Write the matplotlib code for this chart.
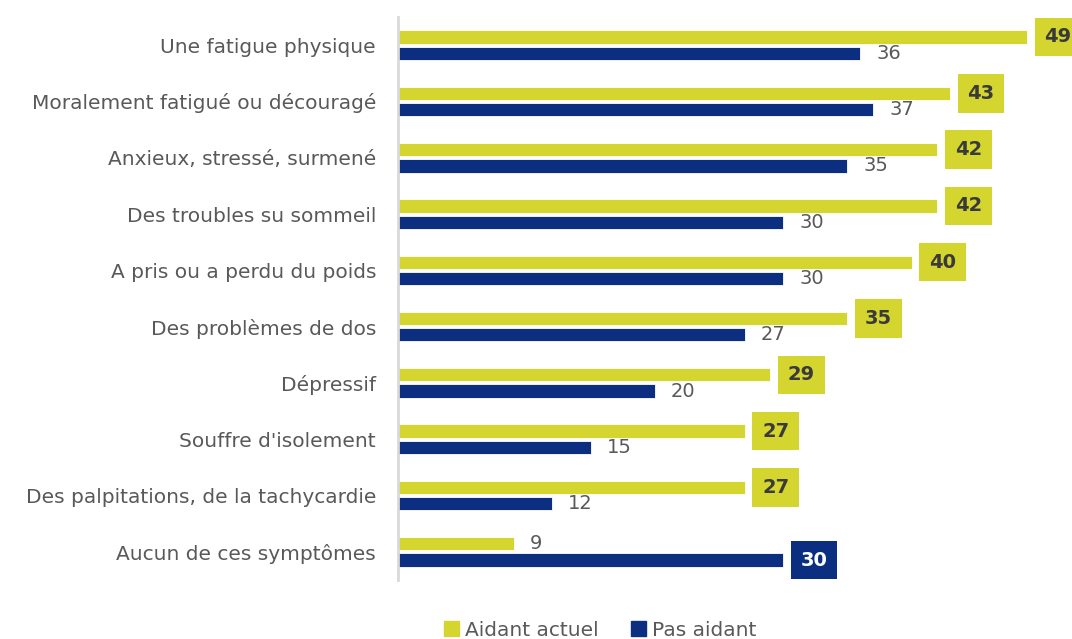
import matplotlib
matplotlib.use("Agg")
import matplotlib.pyplot as plt
from matplotlib.patches import Patch
import numpy as np

categories = [
    "Une fatigue physique",
    "Moralement fatigué ou découragé",
    "Anxieux, stressé, surmené",
    "Des troubles su sommeil",
    "A pris ou a perdu du poids",
    "Des problèmes de dos",
    "Dépressif",
    "Souffre d'isolement",
    "Des palpitations, de la tachycardie",
    "Aucun de ces symptômes",
]
aidant_actuel = [49, 43, 42, 42, 40, 35, 29, 27, 27, 9]
pas_aidant = [36, 37, 35, 30, 30, 27, 20, 15, 12, 30]
series_names = ["Aidant actuel", "Pas aidant"]

YELLOW = "#D4D62F"
NAVY = "#0C2E80"
GRAY = "#595959"

plt.rcParams["font.family"] = ["DejaVu Sans"]

W, H = 1072, 639
fig = plt.figure(figsize=(W / 100, H / 100), dpi=100)
ax = fig.add_axes([398 / W, 59 / H, (W - 398) / W, 563 / H])

y = np.arange(len(categories))
bh = 0.235
off = 0.145
ax.barh(y - off, aidant_actuel, height=bh, color=YELLOW, edgecolor="white", linewidth=0.6)
ax.barh(y + off, pas_aidant, height=bh, color=NAVY, edgecolor="white", linewidth=0.6)

ax.set_xlim(0, (W - 398) / 12.84)
ax.set_ylim(len(categories) - 0.5, -0.5)
ax.set_yticks(y)
ax.set_yticklabels(categories, fontsize=14.5, color=GRAY)
ax.tick_params(axis="y", length=0, pad=15.8)
ax.set_xticks([])
for s in ["top", "right", "bottom"]:
    ax.spines[s].set_visible(False)
ax.spines["left"].set_color("#D9D9D9")
ax.spines["left"].set_linewidth(2)

fs = 14
for i in range(len(categories)):
    a, p = aidant_actuel[i], pas_aidant[i]
    for val, yy, col, is_top in [(a, i - off, YELLOW, a >= p), (p, i + off, NAVY, p > a)]:
        if is_top:
            tc = "white" if col == NAVY else "#3A3A3A"
            ax.annotate(str(val), xy=(val, yy), xytext=(12.5, 0), textcoords="offset points",
                        ha="left", va="center", fontsize=fs, fontweight="bold", color=tc,
                        bbox=dict(boxstyle="square,pad=0.5", fc=col, ec="none"),
                        annotation_clip=False)
        else:
            ax.annotate(str(val), xy=(val, yy), xytext=(11.5, 0), textcoords="offset points",
                        ha="left", va="center", fontsize=fs, color=GRAY,
                        annotation_clip=False)

handles = [Patch(color=YELLOW), Patch(color=NAVY)]
fig.legend(handles, series_names, loc="center", bbox_to_anchor=(600 / W, 1 - 630 / H),
           ncol=2, frameon=False, fontsize=14.5, handlelength=0.75, handleheight=0.75,
           handletextpad=0.3, columnspacing=1.6, labelcolor=GRAY)

fig.savefig("out.png", dpi=100)
